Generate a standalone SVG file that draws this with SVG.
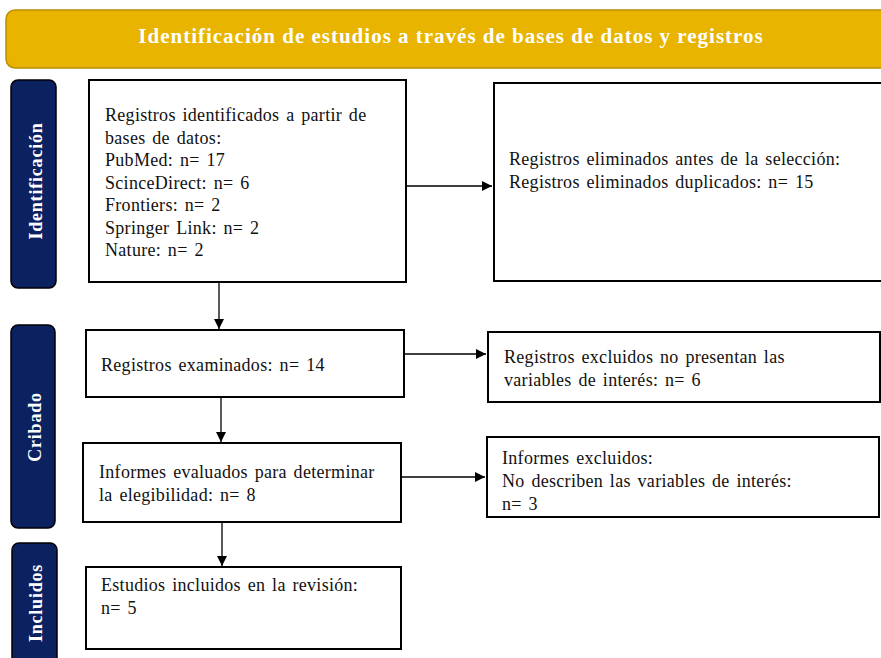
<svg xmlns="http://www.w3.org/2000/svg" width="881" height="658" viewBox="0 0 881 658">
<style>
.box{fill:#fff;stroke:#000;stroke-width:2}
.side{fill:#0B2160;stroke:#000;stroke-width:1.5}
.t{font-family:"Liberation Serif","Times New Roman",serif;font-size:18px;letter-spacing:0.3px;word-spacing:2px;fill:#111}
.st{font-family:"Liberation Serif","Times New Roman",serif;font-size:18px;letter-spacing:0.8px;font-weight:bold;fill:#fff;text-anchor:middle}
.hd{font-family:"Liberation Serif","Times New Roman",serif;font-size:21px;letter-spacing:1px;font-weight:bold;fill:#fff;text-anchor:middle}
.c{stroke:#000;stroke-width:1.3;fill:none;marker-end:url(#ah)}
</style>
<defs>
<marker id="ah" viewBox="0 0 10 10" refX="10" refY="5" markerWidth="10" markerHeight="10" markerUnits="userSpaceOnUse" orient="auto">
<path d="M0,0 L10,5 L0,10 z" fill="#000"/>
</marker>
</defs>
<rect width="881" height="658" fill="#fff"/>
<g id="header">
<rect x="6" y="10" width="885" height="58" rx="9" fill="#E8B400" stroke="#B98F00" stroke-width="1.5"/>
<text class="hd" x="451" y="43">Identificación  de estudios a través de bases de datos y registros</text>
</g>
<g id="side-identificacion">
<rect class="side" x="11" y="80" width="45" height="208" rx="7"/>
<text class="st" transform="translate(42,181) rotate(-90)">Identificación</text>
</g>
<g id="side-cribado">
<rect class="side" x="11" y="325" width="44" height="203" rx="7"/>
<text class="st" transform="translate(41,427) rotate(-90)">Cribado</text>
</g>
<g id="side-incluidos">
<rect class="side" x="12" y="543" width="45" height="125" rx="7"/>
<text class="st" transform="translate(42,603) rotate(-90)">Incluidos</text>
</g>
<g id="connectors">
<line class="c" x1="406" y1="186" x2="492" y2="186"/>
<line class="c" x1="219" y1="282" x2="219" y2="329"/>
<line class="c" x1="404" y1="354" x2="486" y2="354"/>
<line class="c" x1="221" y1="397" x2="221" y2="442"/>
<line class="c" x1="401" y1="477" x2="485" y2="477"/>
<line class="c" x1="222" y1="522" x2="222" y2="566"/>
</g>
<g id="box-identificados">
<rect class="box" x="89" y="80" width="317" height="202"/>
<text class="t" x="105" y="121">Registros identificados  a partir de</text>
<text class="t" x="105" y="143.5">bases de datos:</text>
<text class="t" x="105" y="166">PubMed: n= 17</text>
<text class="t" x="105" y="188.5">ScinceDirect: n= 6</text>
<text class="t" x="105" y="211">Frontiers: n= 2</text>
<text class="t" x="105" y="233.5">Springer Link: n= 2</text>
<text class="t" x="105" y="256">Nature: n= 2</text>
</g>
<g id="box-eliminados">
<rect class="box" x="494" y="83" width="395" height="198"/>
<text class="t" x="509" y="165">Registros eliminados antes de la selección:</text>
<text class="t" x="509" y="188">Registros eliminados duplicados: n= 15</text>
</g>
<g id="box-examinados">
<rect class="box" x="86" y="330" width="318" height="67"/>
<text class="t" x="101" y="371">Registros examinados: n= 14</text>
</g>
<g id="box-excluidos">
<rect class="box" x="488" y="332" width="392" height="70"/>
<text class="t" x="504" y="363">Registros excluidos no presentan las</text>
<text class="t" x="504" y="386">variables de interés: n= 6</text>
</g>
<g id="box-evaluados">
<rect class="box" x="83" y="443" width="318" height="79"/>
<text class="t" x="99" y="478">Informes evaluados para determinar</text>
<text class="t" x="99" y="501">la elegibilidad: n= 8</text>
</g>
<g id="box-informes-excluidos">
<rect class="box" x="487" y="437" width="392" height="80"/>
<text class="t" x="502" y="464">Informes excluidos:</text>
<text class="t" x="502" y="487">No describen las variables de interés:</text>
<text class="t" x="502" y="510">n= 3</text>
</g>
<g id="box-incluidos">
<rect class="box" x="86" y="567" width="315" height="82"/>
<text class="t" x="101" y="591">Estudios incluidos  en la revisión:</text>
<text class="t" x="101" y="614">n= 5</text>
</g>
</svg>
